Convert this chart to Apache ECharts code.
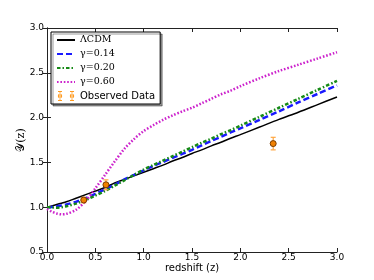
<!DOCTYPE html>
<html>
<head>
<meta charset="utf-8">
<script src="https://cdn.jsdelivr.net/npm/echarts@6/dist/echarts.min.js"></script>
<style>html,body{margin:0;padding:0;background:#fff;}#c{width:374px;height:280px;}</style>
</head>
<body>
<div id="c"></div>
<script>
// redshift grid for model curves
var zGrid = [0.0,0.05,0.1,0.15,0.2,0.3,0.4,0.5,0.6,0.7,0.8,0.9,1.0,1.1,1.2,1.3,1.4,1.5,1.6,1.7,1.8,1.9,2.0,2.2,2.4,2.6,2.8,3.0];
var lcdm  = [1.00,1.015,1.03,1.045,1.06,1.10,1.14,1.18,1.22,1.27,1.31,1.35,1.39,1.43,1.47,1.515,1.555,1.60,1.64,1.685,1.725,1.77,1.81,1.895,1.98,2.06,2.145,2.23];
var g014  = [1.00,1.003,1.01,1.02,1.03,1.06,1.10,1.15,1.20,1.25,1.31,1.36,1.41,1.46,1.505,1.55,1.595,1.64,1.69,1.74,1.785,1.835,1.88,1.975,2.07,2.17,2.265,2.36];
var g020  = [1.00,0.997,0.995,1.00,1.01,1.04,1.08,1.13,1.18,1.24,1.30,1.36,1.42,1.47,1.52,1.57,1.62,1.67,1.72,1.765,1.815,1.86,1.91,2.01,2.11,2.21,2.31,2.41];
var g060  = [0.98,0.95,0.93,0.92,0.925,0.97,1.07,1.21,1.36,1.51,1.65,1.76,1.85,1.915,1.975,2.025,2.07,2.11,2.16,2.21,2.26,2.30,2.35,2.44,2.52,2.59,2.66,2.73];
// observed data
var obsZ   = [0.38, 0.61, 2.34];
var obsY   = [1.08, 1.25, 1.71];
var obsErr = [0.03, 0.055, 0.07];
// axis ticks
var xTicks = [0.0,0.5,1.0,1.5,2.0,2.5,3.0];
var yTicks = [0.5,1.0,1.5,2.0,2.5,3.0];

function pairs(xs, ys){ return xs.map(function(x,i){ return [x, ys[i]]; }); }
var obsData = obsZ.map(function(z,i){ return [z, obsY[i], obsErr[i]]; });

var chart = echarts.init(document.getElementById('c'), null, {renderer:'canvas'});
var axCommon = {
  type:'value',
  axisLine:{show:true, lineStyle:{color:'#222', width:1}},
  axisTick:{show:true, inside:true, length:4, lineStyle:{color:'#222', width:1}},
  splitLine:{show:false}
};
var obsIcon = 'path://M2.6,0h0.8v10h-0.8z M1,0h4v0.9h-4z M1,9.1h4v0.9h-4z M0.8,5a2.2,2.2 0 1,0 4.4,0a2.2,2.2 0 1,0 -4.4,0z M14.6,0h0.8v10h-0.8z M13,0h4v0.9h-4z M13,9.1h4v0.9h-4z M12.8,5a2.2,2.2 0 1,0 4.4,0a2.2,2.2 0 1,0 -4.4,0z';
var hideSym = {color:'rgba(0,0,0,0)', borderColor:'rgba(0,0,0,0)', borderWidth:0, opacity:0};

chart.setOption({
  animation:false,
  backgroundColor:'#fff',
  grid:{left:47, right:37, top:28, bottom:28, containLabel:false, outerBoundsMode:'none'},
  xAxis:[
    Object.assign({}, axCommon, {min:xTicks[0], max:xTicks[xTicks.length-1], interval:0.5, position:'bottom',
      name:'redshift (z)', nameLocation:'middle', nameGap:11, nameMoveOverlap:false,
      nameTextStyle:{fontFamily:'DejaVu Sans', fontSize:10, color:'#000'},
      axisLabel:{show:true, margin:1, fontFamily:'DejaVu Sans', fontSize:9, color:'#000', formatter:function(v){return v.toFixed(1);}}}),
    Object.assign({}, axCommon, {min:xTicks[0], max:xTicks[xTicks.length-1], interval:0.5, position:'top', axisLabel:{show:false}})
  ],
  yAxis:[
    Object.assign({}, axCommon, {min:yTicks[0], max:yTicks[yTicks.length-1], interval:0.5, position:'left',
      name:'𝒴(z)', nameLocation:'middle', nameGap:20, nameRotate:90, nameMoveOverlap:false,
      nameTextStyle:{fontFamily:'DejaVu Serif', fontSize:11, color:'#000'},
      axisLabel:{show:true, margin:3, fontFamily:'DejaVu Sans', fontSize:9, color:'#000', formatter:function(v){return v.toFixed(1);}}}),
    Object.assign({}, axCommon, {min:yTicks[0], max:yTicks[yTicks.length-1], interval:0.5, position:'right', axisLabel:{show:false}})
  ],
  legend:{
    orient:'vertical', left:51, top:32, itemWidth:18, itemHeight:10, itemGap:4,
    padding:[3,5,3,5],
    backgroundColor:'#fff', borderColor:'#000', borderWidth:1, borderRadius:0,
    shadowColor:'rgba(0,0,0,0.4)', shadowBlur:0, shadowOffsetX:2, shadowOffsetY:2,
    textStyle:{color:'#000', fontSize:10, fontFamily:'DejaVu Serif',
      rich:{s:{fontFamily:'DejaVu Sans', fontSize:10, color:'#000', lineHeight:10}, m:{fontFamily:'DejaVu Serif', fontSize:9.5, color:'#000', lineHeight:10}}},
    formatter:function(n){ return n==='Observed Data' ? '{s|'+n+'}' : '{m|'+n+'}'; },
    data:[
      {name:'ΛCDM', itemStyle:hideSym},
      {name:'γ=0.14', itemStyle:hideSym},
      {name:'γ=0.20', itemStyle:hideSym},
      {name:'γ=0.60', itemStyle:hideSym},
      {name:'Observed Data', icon:obsIcon, itemStyle:{color:'#ff9a1f', borderWidth:0, borderColor:'rgba(0,0,0,0)'}}
    ]
  },
  series:[
    {name:'ΛCDM', type:'line', data:pairs(zGrid,lcdm), smooth:0.3, symbol:'none', z:3,
      lineStyle:{color:'#000', width:1.5, type:'solid'}, itemStyle:{color:'#000'}},
    {name:'γ=0.14', type:'line', data:pairs(zGrid,g014), smooth:0.3, symbol:'none', z:4,
      lineStyle:{color:'#1a1aff', width:2.5, type:[6,3]}, itemStyle:{color:'#1a1aff'}},
    {name:'γ=0.20', type:'line', data:pairs(zGrid,g020), smooth:0.3, symbol:'none', z:4,
      lineStyle:{color:'#168a16', width:2.5, type:[3.5,2,1.5,2]}, itemStyle:{color:'#168a16'}},
    {name:'γ=0.60', type:'line', data:pairs(zGrid,g060), smooth:0.3, symbol:'none', z:4,
      lineStyle:{color:'#cc22cc', width:2.5, type:[1.6,1.8]}, itemStyle:{color:'#cc22cc'}},
    {name:'errbars', type:'custom', data:obsData, z:6,
      renderItem:function(params, api){
        var x=api.value(0), y=api.value(1), e=api.value(2);
        var t=api.coord([x,y+e]), b=api.coord([x,y-e]);
        var st={stroke:'#ffa640', lineWidth:1.2};
        return {type:'group', children:[
          {type:'line', shape:{x1:t[0],y1:t[1],x2:b[0],y2:b[1]}, style:st},
          {type:'line', shape:{x1:t[0]-2.5,y1:t[1],x2:t[0]+2.5,y2:t[1]}, style:st},
          {type:'line', shape:{x1:b[0]-2.5,y1:b[1],x2:b[0]+2.5,y2:b[1]}, style:st}
        ]};
      }},
    {name:'Observed Data', type:'scatter', data:obsData.map(function(d){return [d[0],d[1]];}), z:7,
      symbol:'circle', symbolSize:6,
      itemStyle:{color:'#f08000', borderColor:'#7a3d00', borderWidth:1, opacity:1}}
  ]
});
</script>
</body>
</html>
